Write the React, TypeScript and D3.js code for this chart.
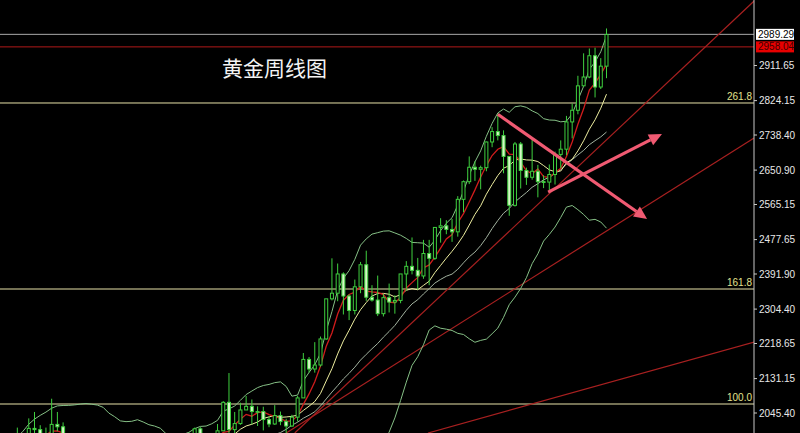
import React from "react";
import * as d3 from "d3";

// Weekly gold OHLC (Oct 2022 .. Mar 2025)
const opens = [
  1694,1644,1657,1644,1681,1771,1751,1755,1797,1797,1793,1798,
  1824,1865,1920,1926,1928,1865,1865,1842,1811,1856,1868,1989,1978,1969,2007,2004,1983,1990,2017,2011,1977,1946,1948,1961,1958,1921,1919,1925,1955,1962,1959,1942,1914,1889,1915,1940,1919,1924,1925,1849,1833,1932,1981,2006,1992,1940,1981,2001,2072,2004,2019,2053,
  2062,2049,2049,2029,2018,2039,2024,2013,2035,2083,2179,2155,2165,2230,2330,2344,2392,2337,2301,2360,2415,2334,2327,2293,2333,2322,2326,2392,2411,2401,2387,2443,2431,2508,2512,2503,2497,2578,2622,2658,2653,2657,2721,2747,2737,2685,2563,2716,2650,2633,2648,2622,2621,
  2640,2690,2703,2771,2800,2861,2883,2936,2858,2910,
];
const highs = [
  1697,1669,1675,1683,1775,1787,1764,1804,1810,1824,1823,1834,
  1870,1922,1937,1949,1960,1890,1870,1846,1858,1870,1989,2009,1987,2032,2048,2015,2009,2081,2048,2022,1985,1983,1971,1970,1960,1925,1935,1964,1987,1973,1970,1945,1916,1925,1953,1953,1933,1947,1936,1858,1933,1997,2009,2010,1993,1988,2018,2075,2145,2048,2071,2088,
  2079,2062,2061,2037,2065,2049,2031,2041,2088,2195,2185,2222,2236,2330,2431,2418,2396,2341,2378,2422,2450,2364,2388,2342,2368,2339,2392,2424,2483,2432,2477,2477,2509,2531,2526,2529,2586,2625,2685,2673,2662,2722,2758,2790,2750,2685,2721,2721,2657,2726,2664,2638,2665,
  2697,2725,2786,2817,2886,2942,2954,2956,2930,3004,
];
const lows = [
  1640,1617,1638,1617,1665,1747,1721,1740,1767,1774,1785,1797,
  1822,1865,1896,1911,1861,1855,1819,1805,1805,1809,1868,1934,1949,1950,1992,1969,1974,1977,2000,1952,1937,1932,1939,1925,1910,1893,1902,1922,1952,1942,1928,1910,1885,1886,1914,1915,1901,1913,1846,1810,1831,1916,1953,1965,1932,1932,1975,2001,1993,1973,2016,2053,
  2017,2013,2002,2010,2016,2015,1984,2011,2024,2083,2146,2146,2161,2228,2326,2324,2291,2277,2291,2344,2325,2323,2287,2286,2296,2293,2319,2350,2391,2353,2380,2364,2427,2470,2491,2472,2485,2546,2616,2624,2603,2648,2708,2725,2643,2537,2560,2605,2614,2627,2583,2606,2597,
  2615,2656,2688,2730,2790,2860,2880,2832,2853,2880,
];
const closes = [
  1644,1657,1644,1681,1771,1751,1755,1797,1797,1793,1798,1824,
  1865,1920,1926,1928,1865,1865,1842,1811,1856,1868,1989,1978,1969,2007,2004,1983,1990,2017,2011,1977,1946,1948,1961,1958,1921,1919,1925,1955,1962,1959,1942,1914,1889,1915,1940,1919,1924,1925,1849,1833,1932,1981,2006,1992,1940,1981,2001,2072,2004,2019,2053,2062,
  2049,2049,2029,2018,2039,2024,2013,2035,2083,2179,2155,2165,2230,2330,2344,2392,2337,2301,2360,2415,2334,2327,2293,2333,2322,2326,2392,2411,2401,2387,2443,2431,2508,2512,2503,2497,2578,2622,2658,2653,2657,2721,2747,2737,2685,2563,2716,2650,2633,2648,2622,2621,2640,
  2690,2703,2771,2800,2861,2883,2936,2858,2910,2989,
];

const axisTicks = [2911.65, 2824.15, 2738.40, 2650.90, 2565.15, 2477.65, 2391.90, 2304.40, 2218.65, 2131.15, 2045.40];
const fibLabels = ["261.8", "161.8", "100.0"];
const fibPrices = [2818.2, 2354.5, 2067.8];
const currentPrice = 2989.29;
const markedPrice = 2958.04;
const title = "黄金周线图";

// trend lines: [index, price] endpoints
const trendLines: [number, number][][] = [
  [[71.5, 1995.5], [152.0, 3075]],
  [[70.0, 1995.5], [151.8, 2731]],
  [[94.8, 1995.5], [151.8, 2222]],
];
// arrows: [index, price] start -> end
const arrows: [number, number][][] = [
  [[107.0, 2790], [133.1, 2529]],
  [[115.8, 2596], [135.7, 2741]],
];

const W = 800, H = 433, AX = 754;
const LAST_X = 606.5, STEP = 5.72;

function sma(a: number[], n: number): (number | null)[] {
  return a.map((_, i) => (i < n - 1 ? null : d3.mean(a.slice(i - n + 1, i + 1)) as number));
}
function band(a: number[], n: number, k: number, sign: number): (number | null)[] {
  return a.map((_, i) => {
    if (i < n - 1) return null;
    const s = a.slice(i - n + 1, i + 1);
    const m = d3.mean(s) as number;
    const sd = Math.sqrt(d3.mean(s, (v) => (v - m) * (v - m)) as number);
    return m + sign * k * sd;
  });
}

export default function App() {
  const N = closes.length;
  const x = d3.scaleLinear().domain([0, N - 1]).range([LAST_X - (N - 1) * STEP, LAST_X]);
  const y = d3.scaleLinear().domain([2045.4, 2911.65]).range([413, 65.5]);

  const line = d3
    .line<number | null>()
    .defined((d) => d != null)
    .x((_, i) => x(i))
    .y((d) => y(d as number));

  const ma5 = sma(closes, 5);
  const ma10 = sma(closes, 10);
  const ma20 = sma(closes, 20);
  const up = band(closes, 20, 2, 1);
  const dn = band(closes, 20, 2, -1);

  const bw = 3;
  const green = "#3fd03f";
  const bearFill = "#d6f6c6";

  const arrowEls = arrows.map((a, k) => {
    const x1 = x(a[0][0]), y1 = y(a[0][1]), x2 = x(a[1][0]), y2 = y(a[1][1]);
    const ang = Math.atan2(y2 - y1, x2 - x1);
    const L = 13, Wd = 6;
    const bx = x2 - L * Math.cos(ang), by = y2 - L * Math.sin(ang);
    const px = -Math.sin(ang) * Wd, py = Math.cos(ang) * Wd;
    return (
      <g key={k}>
        <line x1={x1} y1={y1} x2={bx} y2={by} stroke="#f05a72" strokeWidth={3.2} />
        <polygon points={`${x2},${y2} ${bx + px},${by + py} ${bx - px},${by - py}`} fill="#f05a72" />
      </g>
    );
  });

  return (
    <svg width={W} height={H} style={{ position: "absolute", left: 0, top: 0, background: "#000" }}>
      <defs>
        <clipPath id="plot">
          <rect x={0} y={0} width={AX} height={H} />
        </clipPath>
      </defs>
      <rect x={0} y={0} width={W} height={H} fill="#000" />
      <g clipPath="url(#plot)">
        {/* horizontal levels */}
        {fibPrices.map((p, i) => (
          <line key={i} x1={0} x2={AX} y1={y(p)} y2={y(p)} stroke="#e8e2a8" strokeWidth={1} />
        ))}
        <line x1={0} x2={AX} y1={y(currentPrice)} y2={y(currentPrice)} stroke="#a8a8a8" strokeWidth={1} />
        <line x1={0} x2={AX} y1={y(markedPrice)} y2={y(markedPrice)} stroke="#b01818" strokeWidth={1} />
        {/* trend lines */}
        {trendLines.map((t, i) => (
          <line key={i} x1={x(t[0][0])} y1={y(t[0][1])} x2={x(t[1][0])} y2={y(t[1][1])} stroke="#a82020" strokeWidth={1.2} />
        ))}
        {/* indicators */}
        <path d={line(up) || ""} fill="none" stroke="#86c086" strokeWidth={1} />
        <path d={line(dn) || ""} fill="none" stroke="#86c086" strokeWidth={1} />
        <path d={line(ma20) || ""} fill="none" stroke="#a3b3a0" strokeWidth={1} />
        <path d={line(ma10) || ""} fill="none" stroke="#eeeea0" strokeWidth={1} />
        <path d={line(ma5) || ""} fill="none" stroke="#d01c1c" strokeWidth={1.3} />
        {/* candles */}
        {closes.map((c, i) => {
          const o = opens[i];
          const cx = x(i);
          const top = y(Math.max(o, c));
          const bot = y(Math.min(o, c));
          const bear = c < o;
          return (
            <g key={i}>
              <line x1={cx} x2={cx} y1={y(highs[i])} y2={top} stroke={green} strokeWidth={1} />
              <line x1={cx} x2={cx} y1={bot} y2={y(lows[i])} stroke={green} strokeWidth={1} />
              <rect x={cx - bw / 2} y={top} width={bw} height={Math.max(bot - top, 0.8)} fill={bear ? bearFill : "#000"} stroke={green} strokeWidth={1} />
            </g>
          );
        })}
        {arrowEls}
        {fibLabels.map((l, i) => (
          <text key={i} x={AX - 2} y={y(fibPrices[i]) - 3} textAnchor="end" fontFamily="Liberation Sans, Arial, sans-serif" fontSize={10} fill="#e2e28e">
            {l}
          </text>
        ))}
      </g>
      <text x={222} y={76} fontFamily="Noto Sans CJK SC, sans-serif" fontSize={21} fill="#f4f4f4">
        {title}
      </text>
      {/* axis */}
      <line x1={AX} x2={AX} y1={0} y2={H} stroke="#c8c8c8" strokeWidth={1} />
      {axisTicks.map((t, i) => (
        <g key={i}>
          <line x1={AX} x2={AX + 3} y1={y(t)} y2={y(t)} stroke="#c8c8c8" />
          <text x={759} y={y(t) + 3.5} fontFamily="Liberation Sans, Arial, sans-serif" fontSize={10} fill="#e8e8e8">
            {t.toFixed(2)}
          </text>
        </g>
      ))}
      <rect x={756} y={y(currentPrice) - 5.5} width={38} height={11} fill="#ffffff" />
      <text x={758} y={y(currentPrice) + 3.5} fontFamily="Liberation Sans, Arial, sans-serif" fontSize={10} fill="#000">
        {currentPrice.toFixed(2)}
      </text>
      <rect x={756} y={y(markedPrice) - 5.5} width={38} height={11} fill="#e80000" />
      <text x={758} y={y(markedPrice) + 3.5} fontFamily="Liberation Sans, Arial, sans-serif" fontSize={10} fill="#400000">
        {markedPrice.toFixed(2)}
      </text>
    </svg>
  );
}
